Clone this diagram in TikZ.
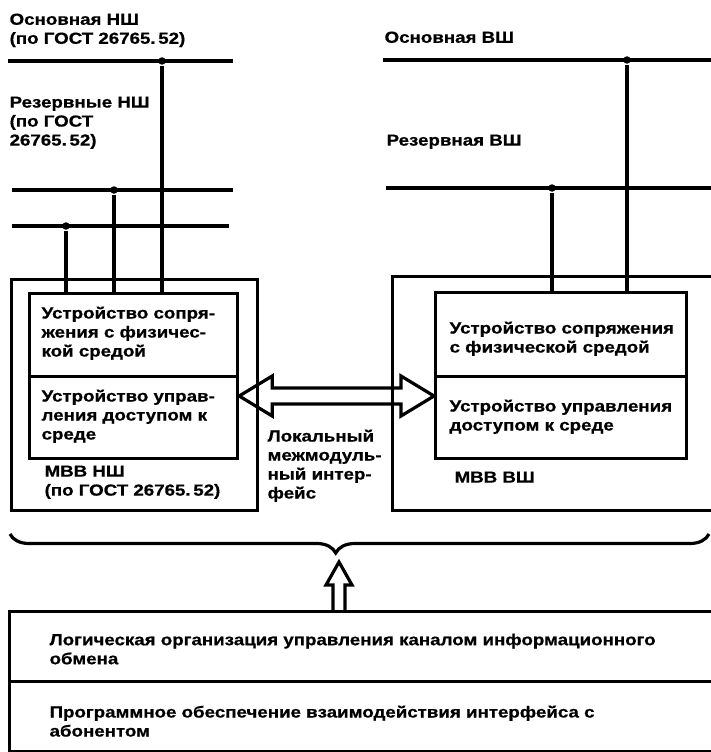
\documentclass[tikz,border=0pt]{standalone}
\usepackage{fontspec}
\newfontfamily\heavy{Liberation Sans Bold}[FakeStretch=1.17,FakeBold=0.7]
\usetikzlibrary{positioning, calc, decorations.pathreplacing}

\begin{document}
\begin{tikzpicture}[x=1pt,y=-1pt,line width=3.2pt,
		txt/.style={anchor=north west,align=left,inner sep=0pt,font=\fontsize{16}{19}\heavy},
		box/.style={draw,anchor=north west,inner sep=0pt},
		dot/.style={circle,fill=black,inner sep=0pt,minimum size=7.5pt}]
		\useasboundingbox (0,0) rectangle (711,752);
		
		\node(nmt) at (8,12)[txt]{Основная НШ\\(по ГОСТ 26765.\,52)};
		\node(nrt) at (8,95)[txt]{Резервные НШ\\(по ГОСТ\\26765.\,52)};
		\node(vmt) at (383,30)[txt]{Основная ВШ};
		\node(vrt) at (385,133)[txt]{Резервная ВШ};
		
		\coordinate(nm1) at (8,61); \coordinate(nm2) at (233,61);
		\coordinate(nr1) at (12,190); \coordinate(nr2) at (233,190);
		\coordinate(nq1) at (12,226); \coordinate(nq2) at (229,226);
		\coordinate(vm1) at (383,60); \coordinate(vm2) at (712,60);
		\coordinate(vr1) at (386,188); \coordinate(vr2) at (712,188);
		\draw (nm1) -- (nm2);
		\draw (nr1) -- (nr2);
		\draw (nq1) -- (nq2);
		\draw (vm1) -- (vm2);
		\draw (vr1) -- (vr2);
		
		\node(1) at (162,61)[dot]{};
		\node(2) at (114,190)[dot]{};
		\node(3) at (66,226)[dot]{};
		\node(4) at (627,60)[dot]{};
		\node(5) at (552,188)[dot]{};
		
		\node(nbox) at (10,278)[box,minimum width=246pt,minimum height=231pt]{};
		\node(nphy) at (28,292)[box,minimum width=208pt,minimum height=83pt]{};
		\node(nacc) at (28,375)[box,minimum width=208pt,minimum height=82pt]{};
		\node(vbox) at (391,275)[box,minimum width=330pt,minimum height=234pt]{};
		\node(vphy) at (434,291)[box,minimum width=251pt,minimum height=84pt]{};
		\node(vacc) at (434,375)[box,minimum width=251pt,minimum height=82pt]{};
		
		\draw (1) -- (1 |- nphy.north);
		\draw (2) -- (2 |- nphy.north);
		\draw (3) -- (3 |- nphy.north);
		\draw (4) -- (4 |- vphy.north);
		\draw (5) -- (5 |- vphy.north);
		
		\node(t1) at (40,305)[txt]{Устройство сопря-\\жения с физичес-\\кой средой};
		\node(t2) at (40,388)[txt]{Устройство управ-\\ления доступом к\\среде};
		\node(t3) at (43,464)[txt]{МВВ НШ\\(по ГОСТ 26765.\,52)};
		\node(t4) at (448,320)[txt]{Устройство сопряжения\\с физической средой};
		\node(t5) at (448,398)[txt]{Устройство управления\\доступом к среде};
		\node(t6) at (453,470)[txt]{МВВ ВШ};
		\node(t7) at (266,428)[txt]{Локальный\\межмодуль-\\ный интер-\\фейс};
		
		\coordinate(lt) at (nacc.east |- 0,396);
		\coordinate(rt) at (vacc.west |- 0,396);
		\draw[line join=miter] (lt) -- ++(33,-20) -- ++(0,12) -- ($(rt)+(-33,-8)$) -- ++(0,-12) -- (rt)
			-- ++(-33,20) -- ++(0,-12) -- ($(lt)+(33,8)$) -- ++(0,12) -- cycle;
		
		\draw[decorate,decoration={brace,mirror,amplitude=19pt,aspect=0.466}] (10,534) -- (709,534);
		
		\node(lbox) at (8,610)[box,minimum width=706pt,minimum height=70pt]{};
		\node(sbox) at (8,680)[box,minimum width=706pt,minimum height=70pt]{};
		\node(t8) at (48,632)[txt]{Логическая организация управления каналом информационного\\обмена};
		\node(t9) at (48,704)[txt]{Программное обеспечение взаимодействия интерфейса с\\абонентом};
		
		\coordinate(uf) at (339,610);
		\draw[line join=miter] ($(uf)+(-6,0)$) -- ++(0,-25) -- ++(-7,0) -- ++(13,-23) -- ++(13,23) -- ++(-7,0) -- ++(0,25);
		
	\end{tikzpicture}
\end{document}
